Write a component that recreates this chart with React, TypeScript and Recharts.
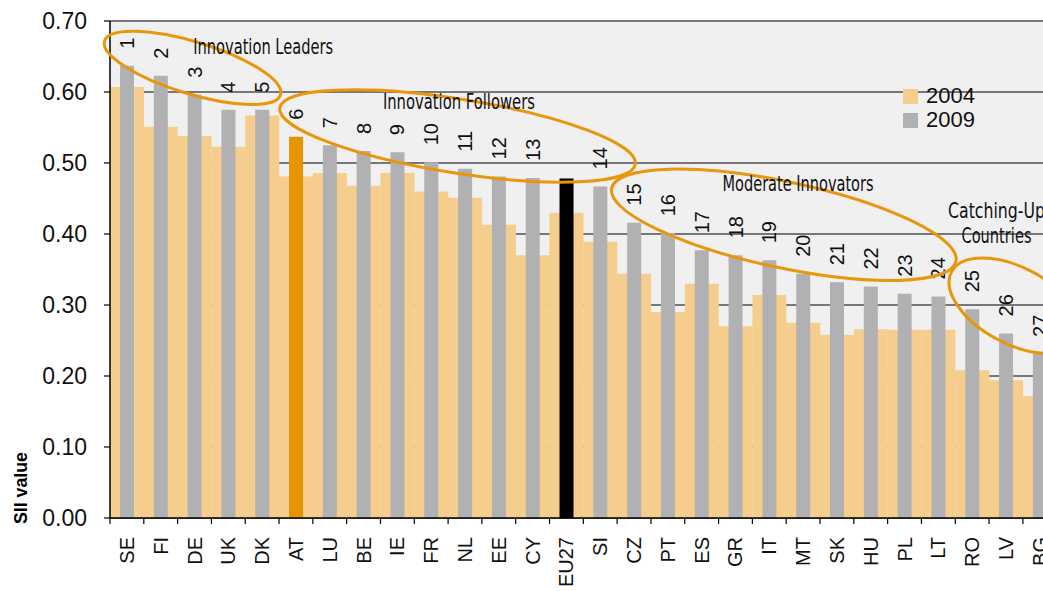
import React from "react";
import { BarChart, Bar, Cell, XAxis, YAxis, CartesianGrid, LabelList } from "recharts";

const COUNTRIES = ["SE", "FI", "DE", "UK", "DK", "AT", "LU", "BE", "IE", "FR", "NL", "EE", "CY", "EU27", "SI", "CZ", "PT", "ES", "GR", "IT", "MT", "SK", "HU", "PL", "LT", "RO", "LV", "BG"];
const SII_2004 = [0.607, 0.551, 0.538, 0.523, 0.567, 0.481, 0.486, 0.468, 0.486, 0.46, 0.451, 0.413, 0.37, 0.43, 0.389, 0.344, 0.29, 0.33, 0.27, 0.314, 0.275, 0.258, 0.266, 0.265, 0.265, 0.208, 0.194, 0.172];
const SII_2009 = [0.637, 0.623, 0.596, 0.575, 0.575, 0.537, 0.525, 0.517, 0.515, 0.501, 0.492, 0.481, 0.479, 0.478, 0.467, 0.416, 0.401, 0.377, 0.37, 0.363, 0.344, 0.332, 0.326, 0.316, 0.312, 0.294, 0.26, 0.231];
const RANKS = [1, 2, 3, 4, 5, 6, 7, 8, 9, 10, 11, 12, 13, null, 14, 15, 16, 17, 18, 19, 20, 21, 22, 23, 24, 25, 26, 27];
const Y_TICKS = [0, 0.1, 0.2, 0.3, 0.4, 0.5, 0.6, 0.7];

// group ellipses: centre in (category index, SII value), radii in px, tilt in degrees
const GROUPS = [
  { label: ["Innovation Leaders"], cat: 1.94, val: 0.634, rx: 92, ry: 26, tilt: 17, tCat: 4.03, tVal: 0.663, tw: [140] },
  { label: ["Innovation Followers"], cat: 9.78, val: 0.538, rx: 180, ry: 37, tilt: 9, tCat: 9.82, tVal: 0.586, tw: [152] },
  { label: ["Moderate Innovators"], cat: 19.43, val: 0.413, rx: 176, ry: 43, tilt: 12, tCat: 19.85, tVal: 0.47, tw: [151] },
  { label: ["Catching-Up", "Countries"], cat: 26.27, val: 0.299, rx: 72, ry: 38, tilt: 28, tCat: 25.72, tVal: 0.433, tw: [97, 70] },
];

const C_2004 = "#F5CE8D";
const C_2009 = "#B1B1B3";
const C_AT = "#E69400";
const C_EU = "#000000";
const C_RING = "#E8960C";

const W = 1070;
const H = 591;
const PLOT_LEFT = 110;
const PLOT_TOP = 21;
const PLOT_BOTTOM = 518;
const BW = 33.81;
const PLOT_RIGHT = PLOT_LEFT + BW * COUNTRIES.length;
const Y_AXIS_W = 60;
const FONT = "'Liberation Sans', Arial, Helvetica, sans-serif";
const NARROW = "'Liberation Sans Narrow', 'DejaVu Sans Condensed', 'Liberation Sans', sans-serif";

const data = COUNTRIES.map((c, i) => ({ country: c, y2004: SII_2004[i], y2009: SII_2009[i], rank: RANKS[i] }));

const px = (cat: number) => PLOT_LEFT + (cat + 0.5) * BW;
const py = (v: number) => PLOT_BOTTOM - (v / 0.7) * (PLOT_BOTTOM - PLOT_TOP);

const XTick = (props: any) => {
  const { x, payload } = props;
  const left = Number(x) - BW / 2;
  return (
    <g>
      <line x1={left} y1={PLOT_BOTTOM} x2={left} y2={PLOT_BOTTOM + 6} stroke="#000" strokeWidth={1.2} />
      <text
        transform={`translate(${x},${PLOT_BOTTOM + 19}) rotate(-90)`}
        textAnchor="end"
        dominantBaseline="central"
        fontFamily={FONT}
        fontSize={20}
        fill="#111"
      >
        {payload.value}
      </text>
    </g>
  );
};

const RankLabel = (props: any) => {
  const { x, y, width, value } = props;
  if (value === null || value === undefined) return null;
  const cx = Number(x) + Number(width) / 2;
  return (
    <text
      transform={`translate(${cx},${Number(y) - 17}) rotate(-90)`}
      textAnchor="start"
      dominantBaseline="central"
      fontFamily={FONT}
      fontSize={20}
      fill="#111"
    >
      {value}
    </text>
  );
};

export default function App() {
  return (
    <div style={{ position: "fixed", left: 0, top: 0, width: 1043, height: H, overflow: "hidden", background: "#fff" }}>
      <BarChart
        width={W}
        height={H}
        data={data}
        margin={{ top: PLOT_TOP, right: W - PLOT_RIGHT, left: PLOT_LEFT - Y_AXIS_W, bottom: 0 }}
        barCategoryGap={0}
        barGap={0}
      >
        <CartesianGrid vertical={false} fill="#F0F0F0" stroke="#777" strokeWidth={2} horizontalValues={Y_TICKS} />
        <XAxis
          xAxisId="a"
          dataKey="country"
          height={H - PLOT_BOTTOM}
          interval={0}
          tickLine={false}
          axisLine={{ stroke: "#000", strokeWidth: 1.5 }}
          tick={<XTick />}
        />
        <XAxis xAxisId="b" dataKey="country" hide />
        <YAxis
          width={Y_AXIS_W}
          domain={[0, 0.7]}
          ticks={Y_TICKS}
          interval={0}
          tickFormatter={(v: number) => v.toFixed(2)}
          tickSize={6}
          tickMargin={17}
          tickLine={{ stroke: "#000", strokeWidth: 1.2 }}
          axisLine={{ stroke: "#000", strokeWidth: 1.5 }}
          tick={{ fontFamily: FONT, fontSize: 23, fill: "#111" }}
        />
        <Bar xAxisId="a" dataKey="y2004" fill={C_2004} isAnimationActive={false} />
        <Bar xAxisId="b" dataKey="y2009" fill={C_2009} barSize={14} isAnimationActive={false}>
          {data.map((d) => (
            <Cell key={d.country} fill={d.country === "AT" ? C_AT : d.country === "EU27" ? C_EU : C_2009} />
          ))}
          <LabelList dataKey="rank" content={<RankLabel />} />
        </Bar>
      </BarChart>

      <svg width={1043} height={H} style={{ position: "absolute", left: 0, top: 0, pointerEvents: "none" }}>
        {GROUPS.map((g, i) => {
          const cx = px(g.cat);
          const cy = py(g.val);
          const tx = px(g.tCat);
          const ty = py(g.tVal);
          return (
            <g key={i}>
              <ellipse cx={cx} cy={cy} rx={g.rx} ry={g.ry} transform={`rotate(${g.tilt},${cx},${cy})`} fill="none" stroke={C_RING} strokeWidth={3} />
              {g.label.map((line, j) => (
                <text
                  key={j}
                  x={tx}
                  y={ty + j * 25}
                  textAnchor="middle"
                  dominantBaseline="central"
                  fontFamily={NARROW}
                  fontSize={21}
                  fill="#111"
                  textLength={g.tw[j]}
                  lengthAdjust="spacingAndGlyphs"
                >
                  {line}
                </text>
              ))}
            </g>
          );
        })}
        <text
          transform={`translate(20,488) rotate(-90)`}
          textAnchor="middle"
          dominantBaseline="central"
          fontFamily={FONT}
          fontWeight="bold"
          fontSize={19}
          fill="#000"
          textLength={72}
          lengthAdjust="spacingAndGlyphs"
        >
          SII value
        </text>
      </svg>

      <div style={{ position: "absolute", left: 903, top: 84, fontFamily: FONT, fontSize: 22, color: "#111", lineHeight: "24px" }}>
        {[["2004", C_2004], ["2009", C_2009]].map(([name, color]) => (
          <div key={name} style={{ display: "flex", alignItems: "center", height: 24 }}>
            <span style={{ display: "inline-block", width: 15, height: 15, background: color, marginRight: 8 }} />
            {name}
          </div>
        ))}
      </div>
    </div>
  );
}
